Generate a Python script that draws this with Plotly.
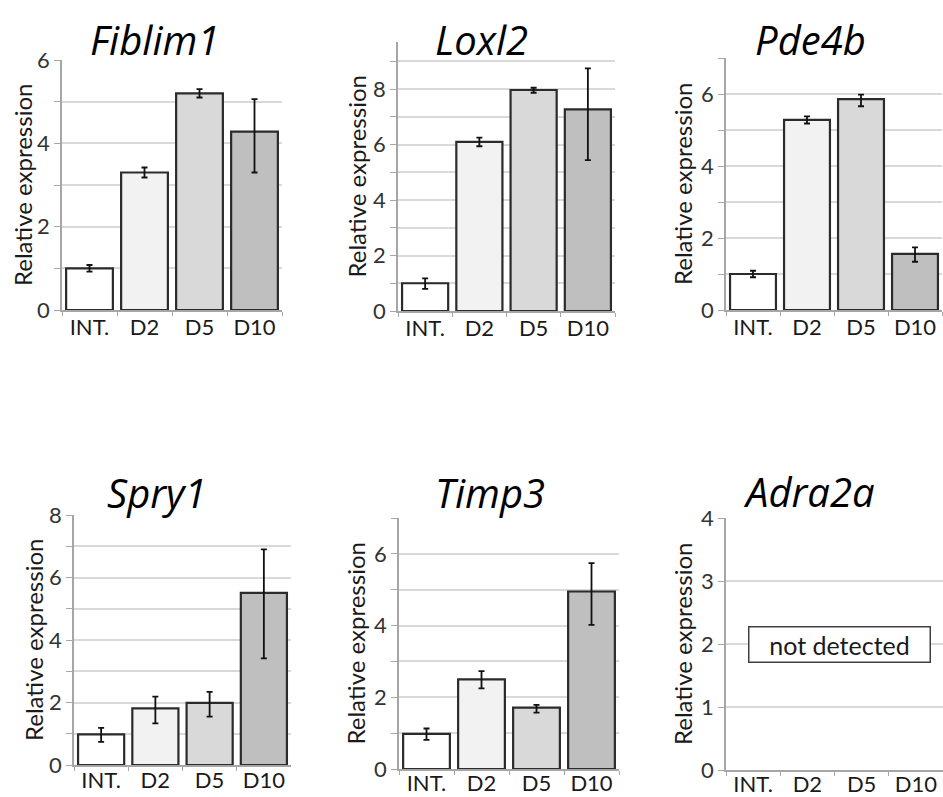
import plotly.graph_objects as go

categories = ["INT.", "D2", "D5", "D10"]
genes = ["Fiblim1", "Loxl2", "Pde4b", "Spry1", "Timp3", "Adra2a"]

fiblim1 = [1.0, 3.3, 5.2, 4.28]
fiblim1_up = [0.08, 0.12, 0.1, 0.78]
fiblim1_dn = [0.08, 0.12, 0.1, 0.98]

loxl2 = [1.0, 6.1, 7.97, 7.27]
loxl2_up = [0.18, 0.15, 0.08, 1.48]
loxl2_dn = [0.2, 0.16, 0.1, 1.83]

pde4b = [1.0, 5.28, 5.86, 1.56]
pde4b_up = [0.09, 0.1, 0.12, 0.18]
pde4b_dn = [0.09, 0.1, 0.2, 0.22]

spry1 = [0.98, 1.81, 1.99, 5.51]
spry1_up = [0.21, 0.38, 0.35, 1.39]
spry1_dn = [0.24, 0.48, 0.44, 2.1]

timp3 = [0.98, 2.5, 1.71, 4.95]
timp3_up = [0.15, 0.23, 0.08, 0.79]
timp3_dn = [0.17, 0.25, 0.14, 0.93]

adra2a = [None, None, None, None]  # not detected

values = [fiblim1, loxl2, pde4b, spry1, timp3, adra2a]
err_up = [fiblim1_up, loxl2_up, pde4b_up, spry1_up, timp3_up, None]
err_dn = [fiblim1_dn, loxl2_dn, pde4b_dn, spry1_dn, timp3_dn, None]

y_max = [6, 9.7, 7, 8, 7, 4]
y_major = [2, 2, 2, 2, 2, 1]
y_minor = [1, 1, 1, 1, 1, 1]

bar_colors = ["#ffffff", "#f2f2f2", "#d9d9d9", "#bfbfbf"]

W, H = 943, 797
# pixel boxes: (left, right, top, bottom)
boxes = [
    (62, 282, 60, 310),
    (398, 615, 42, 311),
    (726, 942, 58, 310),
    (74, 291, 515, 765),
    (399, 619, 518, 769),
    (726, 943, 518, 770),
]
label_standoff = [-3, -3, -3, -5, -6, -6]
title_pos = [(154, 39), (482, 39), (810, 40), (157, 492), (490, 492), (809, 491)]
ytitle_x = [22, 356, 683, 33, 355, 682]

FONT = "Lato"
TFONT = "Open Sans"
fig = go.Figure()
annotations = []
layout = {}
for i in range(6):
    n = "" if i == 0 else str(i + 1)
    l, r, t, b = boxes[i]
    ey = None
    if err_up[i] is not None:
        ey = dict(type="data", symmetric=False, array=err_up[i], arrayminus=err_dn[i],
                  color="#111111", thickness=1.8, width=3)
    fig.add_trace(go.Bar(
        x=categories, y=values[i], xaxis="x" + n, yaxis="y" + n,
        marker=dict(color=bar_colors, line=dict(color="#2b2b2b", width=2.2)),
        error_y=ey, showlegend=False))
    layout["xaxis" + n] = dict(
        domain=[l / W, r / W], anchor="y" + n, type="category",
        categoryorder="array", categoryarray=categories, range=[-0.5, 3.5],
        showline=True, linecolor="#a6a6a6", linewidth=1.5, automargin=False,
        ticks="outside", tickson="boundaries", ticklen=4, tickcolor="#a6a6a6",
        ticklabelstandoff=label_standoff[i],
        tickfont=dict(family=FONT, size=22, color="#1a1a1a"), showgrid=False,
        fixedrange=True)
    layout["yaxis" + n] = dict(
        domain=[1 - b / H, 1 - t / H], anchor="x" + n, range=[0, y_max[i]],
        dtick=y_major[i], tick0=0, showline=True, linecolor="#a6a6a6", linewidth=1.5,
        ticks="outside", ticklen=6, tickcolor="#a6a6a6", automargin=False,
        showgrid=True, gridcolor="#d9d9d9", gridwidth=1.5, zeroline=False,
        minor=dict(dtick=y_minor[i], tick0=0, showgrid=True, gridcolor="#d9d9d9",
                   gridwidth=1.5, ticks="outside", ticklen=6, tickcolor="#a6a6a6"),
        tickfont=dict(family=FONT, size=22, color="#333333"), fixedrange=True)
    tx, ty = title_pos[i]
    annotations.append(dict(text=genes[i], xref="paper", yref="paper",
                            x=tx / W, y=1 - ty / H, xanchor="center", yanchor="middle",
                            showarrow=False,
                            font=dict(family=TFONT, size=40, color="#000000", style="italic")))
    annotations.append(dict(text="Relative expression", xref="paper", yref="paper",
                            x=ytitle_x[i] / W, y=1 - (t + b) / 2 / H, textangle=-90,
                            xanchor="center", yanchor="middle", showarrow=False,
                            font=dict(family=FONT, size=24, color="#1a1a1a")))

annotations.append(dict(text="not detected", xref="x6", yref="y6", x=1.6, y=2,
                        xanchor="center", yanchor="middle", showarrow=False,
                        width=176, height=30, bgcolor="#ffffff", bordercolor="#404040",
                        borderwidth=1.5, borderpad=2,
                        font=dict(family=FONT, size=25, color="#1a1a1a")))

fig.update_layout(
    width=W, height=H, margin=dict(l=0, r=0, t=0, b=0, autoexpand=False),
    paper_bgcolor="#ffffff", plot_bgcolor="#ffffff",
    bargap=0.15, annotations=annotations, **layout)

fig.write_html("out.html", config={"displayModeBar": False},
               post_script="document.body.style.margin='0';document.body.style.overflow='hidden';")
